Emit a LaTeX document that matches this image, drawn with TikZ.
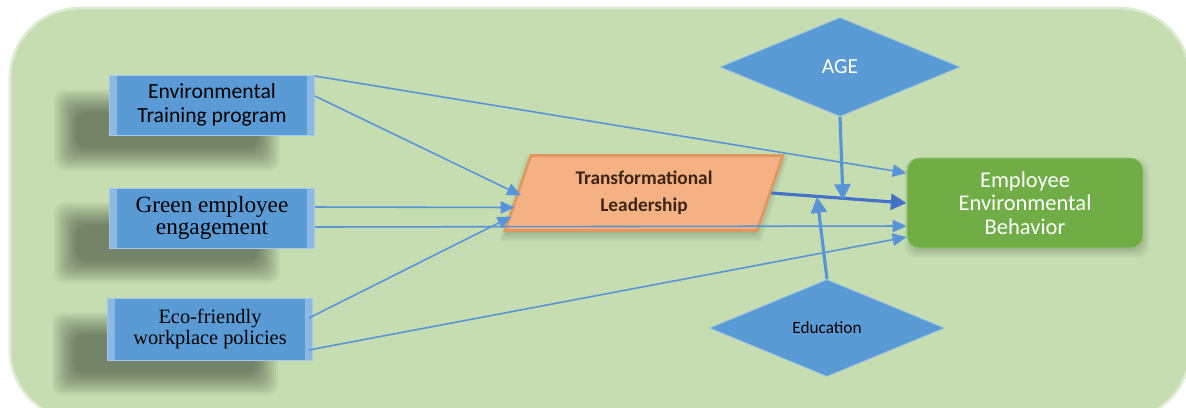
\documentclass[tikz,border=0pt]{standalone}
\usepackage{fontspec}
\setmainfont{Carlito}
\newfontfamily\timesfont{Liberation Serif}
\usepackage{xcolor}
\usepackage{tikz}
\usetikzlibrary{shapes.geometric,arrows.meta,positioning,backgrounds}

\definecolor{bgGreen}{RGB}{197,221,177}
\definecolor{boxBlue}{RGB}{91,155,213}
\definecolor{lineBlue}{RGB}{88,148,216}
\definecolor{darkBlue}{RGB}{68,114,200}
\definecolor{tlOrange}{RGB}{244,177,131}
\definecolor{tlBorder}{RGB}{226,150,96}
\definecolor{tlText}{RGB}{62,36,20}
\definecolor{eebGreen}{RGB}{112,173,71}

\begin{document}
\begin{tikzpicture}[x=0.02cm, y=-0.02cm,
  inbox/.style={draw=boxBlue!55!white, fill=boxBlue, minimum width=4.1cm, minimum height=1.2cm, align=center, inner sep=1pt,
    path picture={
      \fill[white, opacity=0.3] (path picture bounding box.south west) rectangle ([xshift=4pt]path picture bounding box.north west);
      \fill[white, opacity=0.3] (path picture bounding box.south east) rectangle ([xshift=-4pt]path picture bounding box.north east);
    }},
  moderator/.style={diamond, draw=boxBlue!60!white, fill=boxBlue, inner sep=0pt, align=center},
  thin/.style={draw=lineBlue, line width=0.9pt, -{Triangle[length=8pt,width=7pt]}},
  bold/.style={draw=lineBlue, line width=1.8pt, -{Triangle[length=9pt,width=9pt]}}
]
  \clip (0,0) rectangle (1186,407);

  % inputs
  \node[inbox, font=\fontsize{12.3}{13.5}\selectfont] (et) at (212,105) {Environmental\\Training program};
  \node[inbox, font=\timesfont\fontsize{13.2}{12.5}\selectfont] (ge) at (212,218) {Green employee\\engagement};
  \node[inbox, minimum height=1.24cm, font=\timesfont\fontsize{11.6}{11.5}\selectfont] (ef) at (210,329) {Eco-friendly\\workplace policies};

  % mediator, outcome
  \node[trapezium, trapezium left angle=73, trapezium right angle=107, trapezium stretches=true,
        minimum width=5.56cm, minimum height=1.5cm, fill=tlOrange, draw=tlBorder, line width=1.5pt,
        text=tlText, align=center, font=\bfseries\fontsize{11}{15.5}\selectfont]
        (tl) at (644,193) {Transformational\\Leadership};
  \node[rounded corners=0.25cm, minimum width=4.72cm, minimum height=1.8cm, fill=eebGreen, draw=eebGreen!75!white,
        text=white, align=center, font=\fontsize{12.8}{13.5}\selectfont]
        (eeb) at (1025,203) {Employee\\Environmental\\Behavior};

  % moderators
  \node[moderator, minimum width=4.8cm, minimum height=1.98cm, text=white, font=\fontsize{12.2}{13}\selectfont] (age) at (840,67) {AGE};
  \node[moderator, minimum width=4.7cm, minimum height=1.94cm, font=\fontsize{9.8}{11}\selectfont] (edu) at (827,328) {Education};
  \coordinate (agetip) at (843,200);
  \coordinate (edutip) at (817,197);

  \begin{scope}[on background layer]
    \fill[bgGreen, draw=bgGreen!55!white, line width=1.5pt, rounded corners=1.4cm] (10,8) rectangle (1190,420);
    % soft shadows of the input boxes
    \foreach \n in {et,ge,ef}
      \foreach \k in {-10,-8,...,12}
        \fill[black, opacity=0.04, rounded corners=6pt]
          ([xshift={(-45+\k)*0.02cm}, yshift={(-25-\k)*0.02cm}]\n.north west) rectangle
          ([xshift={(-45-\k)*0.02cm}, yshift={(-25+\k)*0.02cm}]\n.south east);
    % small shadows under the two middle boxes
    \foreach \k in {-4,-2,...,4}
      \fill[black, opacity=0.04, rounded corners=6pt]
        ([xshift={(2+\k)*0.02cm}, yshift={(-5-\k)*0.02cm}]eeb.north west) rectangle
        ([xshift={(2-\k)*0.02cm}, yshift={(-5+\k)*0.02cm}]eeb.south east);
    \foreach \k in {-4,-2,...,4}
      \fill[black, opacity=0.04]
        ([xshift={(\k)*0.02cm}, yshift={(-5+\k)*0.02cm}]tl.bottom left corner) --
        ([xshift={(-\k)*0.02cm}, yshift={(-5+\k)*0.02cm}]tl.bottom right corner) --
        ([xshift={(-\k)*0.02cm}, yshift={(-5-\k)*0.02cm}]tl.top right corner) --
        ([xshift={(\k)*0.02cm}, yshift={(-5-\k)*0.02cm}]tl.top left corner) -- cycle;
  \end{scope}

  \draw[thin] ([yshift=0.58cm]et.east) -- ([yshift=0.6cm]eeb.west);
  \draw[thin] ([yshift=0.18cm]et.east) -- ([xshift=0.09cm,yshift=-0.05cm]tl.west);
  \draw[thin] ([yshift=0.22cm]ge.east) -- ([xshift=-0.04cm,yshift=-0.29cm]tl.west);
  \draw[thin] ([yshift=-0.18cm]ge.east) -- ([yshift=-0.46cm]eeb.west);
  \draw[thin] ([xshift=-0.08cm,yshift=0.22cm]ef.east) -- ([xshift=-0.1cm,yshift=-0.47cm]tl.west);
  \draw[thin] ([xshift=-0.08cm,yshift=-0.42cm]ef.east) -- ([yshift=-0.68cm]eeb.west);
  \draw[bold, draw=darkBlue] (tl.east) -- (eeb.west);
  \draw[bold] (age.south) -- (agetip);
  \draw[bold] (edu.north) -- (edutip);
\end{tikzpicture}
\end{document}
